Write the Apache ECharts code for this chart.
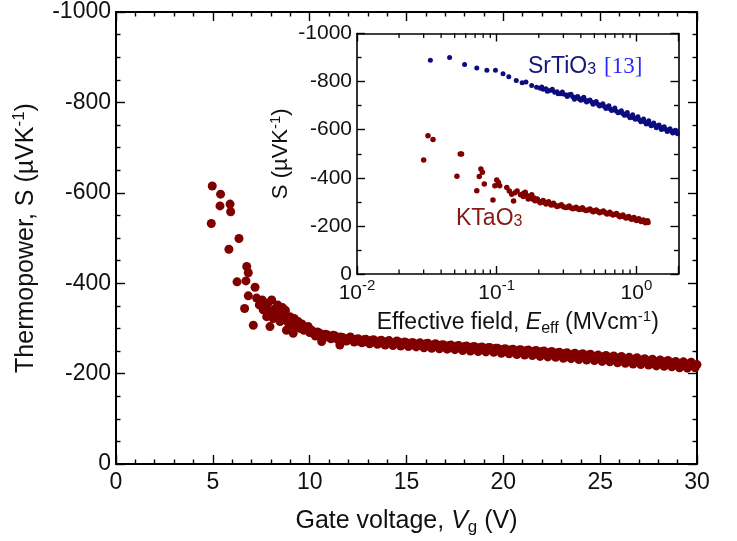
<!DOCTYPE html>
<html>
<head>
<meta charset="utf-8">
<script src="https://cdn.jsdelivr.net/npm/echarts@6/dist/echarts.min.js"></script>
<style>
  html, body { margin: 0; background: #fff; }
  #chart { width: 737px; height: 541px; }
</style>
</head>
<body>
<div id="chart"></div>
<script>
// main panel: thermopower vs gate voltage (KTaO3)
const gateV = [
  4.92, 4.97, 5.37, 5.40, 5.83, 5.89, 5.92, 6.25, 6.35, 6.64, 6.71, 6.75, 6.83, 6.83,
  7.09, 7.18, 7.26, 7.40, 7.55, 7.60, 7.70, 7.78, 7.85, 7.90, 7.95, 8.04, 8.12, 8.20, 8.30,
  8.35, 8.47, 8.55, 8.60, 8.65, 8.75, 8.80, 8.90, 8.98, 9.05, 9.15, 9.20, 9.30, 9.41, 9.50,
  9.60, 9.70, 9.85, 9.93,
  10.0, 10.2, 10.4, 10.6, 10.62, 10.8, 11.0, 11.2, 11.22, 11.4, 11.56, 11.6, 11.8,
  12.0, 12.2, 12.4, 12.6, 12.8, 13.0, 13.2, 13.4, 13.6, 13.8, 14.0, 14.2, 14.4, 14.6, 14.8,
  15.0, 15.2, 15.4, 15.6, 15.8, 16.0, 16.2, 16.4, 16.6, 16.8, 17.0, 17.2, 17.4, 17.6, 17.8,
  18.0, 18.2, 18.4, 18.6, 18.8, 19.0, 19.2, 19.4, 19.6, 19.8, 20.0, 20.2, 20.4, 20.6, 20.8,
  21.0, 21.2, 21.4, 21.6, 21.8, 22.0, 22.2, 22.4, 22.6, 22.8, 23.0, 23.2, 23.4, 23.6, 23.8,
  24.0, 24.2, 24.4, 24.6, 24.8, 25.0, 25.2, 25.4, 25.6, 25.8, 26.0, 26.2, 26.4, 26.6, 26.8,
  27.0, 27.2, 27.4, 27.6, 27.8, 28.0, 28.2, 28.4, 28.6, 28.8, 29.0, 29.2, 29.4, 29.6, 29.8, 30.0
];
const thermoS = [
  -532, -615, -571, -597, -475, -575, -558, -403, -499, -344, -405, -437, -423, -372,
  -307, -391, -367, -352, -363, -341, -346, -326, -356, -338, -304, -363, -322, -343, -331,
  -352, -315, -333, -346, -320, -340, -296, -312, -326, -308, -289, -322, -305, -315, -300,
  -310, -296, -298, -304,
  -291, -288, -292, -284, -271, -287, -280, -283, -285, -277, -263, -281, -275,
  -278, -274, -276, -271, -275, -270, -274, -269, -272, -267, -271, -268, -266, -270, -265,
  -268, -263, -267, -264, -262, -266, -261, -264, -259, -263, -258, -262, -257, -261, -256,
  -260, -255, -259, -254, -258, -253, -257, -252, -256, -251, -254, -249, -253, -248, -252,
  -247, -251, -246, -250, -244, -249, -243, -247, -242, -246, -240, -245, -239, -243, -238,
  -242, -236, -241, -235, -239, -233, -238, -232, -236, -230, -235, -229, -233, -227, -232,
  -226, -230, -225, -229, -223, -227, -222, -226, -220, -224, -219, -223, -218, -222, -217, -220
];
// second sweep, interleaved with the first
const gateV2 = [
  10.1, 10.3, 10.5, 10.7, 10.9, 11.1, 11.3, 11.5, 11.7, 11.9,
  12.1, 12.3, 12.5, 12.7, 12.9, 13.1, 13.3, 13.5, 13.7, 13.9,
  14.1, 14.3, 14.5, 14.7, 14.9, 15.1, 15.3, 15.5, 15.7, 15.9,
  16.1, 16.3, 16.5, 16.7, 16.9, 17.1, 17.3, 17.5, 17.7, 17.9,
  18.1, 18.3, 18.5, 18.7, 18.9, 19.1, 19.3, 19.5, 19.7, 19.9,
  20.1, 20.3, 20.5, 20.7, 20.9, 21.1, 21.3, 21.5, 21.7, 21.9,
  22.1, 22.3, 22.5, 22.7, 22.9, 23.1, 23.3, 23.5, 23.7, 23.9,
  24.1, 24.3, 24.5, 24.7, 24.9, 25.1, 25.3, 25.5, 25.7, 25.9,
  26.1, 26.3, 26.5, 26.7, 26.9, 27.1, 27.3, 27.5, 27.7, 27.9,
  28.1, 28.3, 28.5, 28.7, 28.9, 29.1, 29.3, 29.5, 29.7, 29.9
];
const thermoS2 = [
  -296, -283, -290, -279, -286, -277, -284, -274, -280, -272,
  -281, -270, -277, -268, -276, -266, -275, -265, -274, -263,
  -273, -262, -272, -261, -270, -260, -269, -259, -268, -257,
  -267, -256, -266, -255, -264, -254, -263, -253, -262, -251,
  -261, -250, -260, -249, -259, -248, -258, -247, -256, -245,
  -255, -244, -254, -242, -253, -241, -252, -240, -251, -238,
  -250, -237, -249, -236, -247, -234, -246, -233, -245, -231,
  -244, -230, -243, -229, -241, -227, -240, -226, -239, -224,
  -238, -223, -236, -221, -235, -220, -233, -219, -232, -217,
  -230, -216, -229, -215, -227, -213, -226, -212, -225, -213
];

// inset: S vs effective field, KTaO3
const ktoField = [
  0.030, 0.0322, 0.035, 0.0519, 0.0548, 0.056, 0.072, 0.075, 0.077, 0.079, 0.0815,
  0.094, 0.097, 0.100, 0.103, 0.105, 0.118, 0.123, 0.128, 0.132, 0.135, 0.140, 0.148,
  0.155, 0.160, 0.165, 0.17, 0.175, 0.18, 0.185, 0.19, 0.20, 0.21, 0.22, 0.23, 0.24,
  0.25, 0.26, 0.28, 0.30, 0.32, 0.34, 0.36, 0.38, 0.40, 0.42, 0.45, 0.48, 0.50, 0.53,
  0.56, 0.60, 0.63, 0.66, 0.70, 0.74, 0.78, 0.82, 0.86, 0.90, 0.94, 0.98, 1.02, 1.06,
  1.10, 1.14, 1.18, 1.21
];
const ktoS = [
  -474, -575, -559, -406, -499, -499, -346, -405, -437, -423, -374,
  -308, -367, -391, -380, -367, -360, -345, -332, -304, -338, -345, -330,
  -322, -340, -325, -318, -322, -312, -316, -307, -303, -300, -297, -294, -292,
  -289, -287, -284, -280, -278, -275, -273, -271, -270, -268, -266, -263, -262, -260,
  -258, -255, -252, -250, -248, -244, -241, -238, -235, -233, -230, -228, -226, -223,
  -221, -218, -216, -214
];
const ktoField2 = [
  0.155, 0.168, 0.178, 0.188, 0.195, 0.205, 0.215, 0.225, 0.235, 0.245, 0.255,
  0.27, 0.29, 0.31, 0.33, 0.35, 0.37, 0.39, 0.41, 0.435, 0.465, 0.49, 0.515, 0.545,
  0.58, 0.615, 0.645, 0.68, 0.72, 0.76, 0.80, 0.84, 0.88, 0.92, 0.96, 1.00, 1.04,
  1.08, 1.12, 1.16, 1.20
];
const ktoS2 = [
  -335, -312, -330, -305, -312, -296, -306, -291, -300, -287, -294,
  -281, -288, -276, -283, -271, -278, -268, -275, -264, -270, -259, -266, -255,
  -262, -250, -257, -245, -252, -238, -245, -233, -239, -228, -235, -222, -230,
  -218, -225, -213, -221
];

// inset: SrTiO3 [13]
const stoField = [
  0.0335, 0.046, 0.0589, 0.072, 0.085, 0.098, 0.111, 0.122, 0.138, 0.152, 0.162,
  0.178, 0.193, 0.205, 0.215, 0.225, 0.235, 0.245, 0.26, 0.27, 0.285, 0.30, 0.315,
  0.33, 0.35, 0.37, 0.39, 0.41, 0.43, 0.45, 0.48, 0.50, 0.53, 0.56, 0.59, 0.62, 0.65,
  0.68, 0.72, 0.76, 0.80, 0.84, 0.88, 0.92, 0.96, 1.00, 1.05, 1.10, 1.15, 1.20, 1.25,
  1.30, 1.36, 1.42, 1.48, 1.55, 1.62, 1.70, 1.78, 1.86, 1.94
];
const stoS = [
  -889, -900, -871, -857, -847, -847, -833, -820, -805, -795, -798,
  -784, -777, -772, -768, -770, -762, -764, -756, -758, -750, -748, -744,
  -745, -737, -735, -728, -730, -722, -720, -714, -712, -706, -703, -696, -694, -686,
  -683, -677, -673, -667, -664, -657, -655, -650, -648, -641, -638, -632, -630, -624,
  -621, -617, -612, -610, -604, -602, -597, -594, -591, -589
];
const stoField2 = [
  0.21, 0.23, 0.25, 0.275, 0.295, 0.32, 0.34, 0.36, 0.38, 0.40, 0.42, 0.44, 0.465,
  0.49, 0.515, 0.545, 0.575, 0.605, 0.635, 0.665, 0.70, 0.74, 0.78, 0.82, 0.86, 0.90,
  0.94, 0.98, 1.025, 1.075, 1.125, 1.175, 1.225, 1.275, 1.33, 1.39, 1.45, 1.51, 1.58,
  1.66, 1.74, 1.82, 1.90, 1.97
];
const stoS2 = [
  -778, -760, -768, -750, -757, -738, -747, -727, -738, -722, -735, -715, -724,
  -706, -717, -699, -708, -688, -700, -680, -690, -670, -679, -660, -671, -650,
  -662, -643, -654, -633, -645, -624, -637, -616, -628, -608, -620, -601, -612,
  -593, -604, -586, -598, -583
];

// minor ticks of the log axis in the inset
const logMinorTicks = [0.02, 0.03, 0.04, 0.05, 0.06, 0.07, 0.08, 0.09,
  0.2, 0.3, 0.4, 0.5, 0.6, 0.7, 0.8, 0.9];

const FONT = 'Liberation Sans, Arial, sans-serif';
const RED = '#800000';
const NAVY = '#0c0c7e';

const chart = echarts.init(document.getElementById('chart'));

function frame(extra, lineW, tickLen, minorLen, minorSplit) {
  const ax = {
    splitLine: { show: false },
    axisLine: { show: true, onZero: false, lineStyle: { color: '#000', width: lineW } },
    axisTick: { show: true, inside: true, length: tickLen, lineStyle: { color: '#000', width: 1.4 } },
    minorTick: { show: !!minorSplit, splitNumber: minorSplit || 5, length: minorLen, lineStyle: { color: '#000', width: 1.4 } },
  };
  return Object.assign(ax, extra);
}

const pairs = (xs, ys) => xs.map((v, i) => [v, ys[i]]);
const plainNum = (v) => String(v);
const mainLabel = { fontSize: 23, color: '#111', fontFamily: FONT };
const insetLabel = { fontSize: 21, color: '#111', fontFamily: FONT };

const option = {
  animation: false,
  backgroundColor: '#fff',
  grid: [
    { left: 116, top: 12, width: 581, height: 452 },
    { left: 357, top: 33.5, width: 321.5, height: 240.5 },
  ],
  xAxis: [
    frame({
      gridIndex: 0, type: 'value', min: 0, max: 30, interval: 5, position: 'bottom',
      axisLabel: Object.assign({ margin: 7, formatter: plainNum }, mainLabel),
      name: 'Gate voltage, {i|V}{sub|g} (V)',
      nameLocation: 'middle', nameGap: 42,
      nameTextStyle: {
        fontSize: 25, color: '#111', fontFamily: FONT, lineHeight: 30,
        rich: {
          i: { fontSize: 25, fontStyle: 'italic', fontFamily: FONT, color: '#111', lineHeight: 30 },
          sub: { fontSize: 17, fontFamily: FONT, color: '#111', lineHeight: 15, verticalAlign: 'bottom' },
        },
      },
    }, 2, 9, 4.5, 5),
    frame({
      gridIndex: 0, type: 'value', min: 0, max: 30, interval: 5, position: 'top',
      axisLabel: { show: false },
    }, 2, 9, 4.5, 5),
    frame({
      gridIndex: 1, type: 'log', logBase: 10, min: 0.01, max: 2, position: 'bottom',
      axisLabel: {
        margin: 4,
        formatter: function (v) {
          const e = Math.round(Math.log10(v));
          if (Math.abs(v - Math.pow(10, e)) / v > 1e-6) return '';
          return '{b|10}{sup|' + e + '}';
        },
        rich: {
          b: { fontSize: 21, fontFamily: FONT, color: '#111', lineHeight: 26, verticalAlign: 'bottom' },
          sup: { fontSize: 15, fontFamily: FONT, color: '#111', lineHeight: 14, verticalAlign: 'top' },
        },
      },
      name: 'Effective field, {i|E}{sub|eff} (MVcm{sup|-1})',
      nameLocation: 'middle', nameGap: 35,
      nameTextStyle: {
        fontSize: 23, color: '#111', fontFamily: FONT, lineHeight: 28,
        rich: {
          i: { fontSize: 23, fontStyle: 'italic', fontFamily: FONT, color: '#111', lineHeight: 28 },
          sub: { fontSize: 16, fontFamily: FONT, color: '#111', lineHeight: 14, verticalAlign: 'bottom' },
          sup: { fontSize: 15, fontFamily: FONT, color: '#111', lineHeight: 14, verticalAlign: 'top' },
        },
      },
    }, 1.6, 8, 0, 0),
    frame({
      gridIndex: 1, type: 'log', logBase: 10, min: 0.01, max: 2, position: 'top',
      axisLabel: { show: false },
    }, 1.6, 8, 0, 0),
  ],
  yAxis: [
    frame({
      gridIndex: 0, type: 'value', min: -1000, max: 0, interval: 200, inverse: true, position: 'left',
      axisLabel: Object.assign({ margin: 5, formatter: plainNum }, mainLabel),
      name: 'Thermopower, S (µVK{sup|-1})',
      nameLocation: 'middle', nameGap: 72,
      nameTextStyle: {
        fontSize: 25, color: '#111', fontFamily: FONT, lineHeight: 30,
        rich: {
          sup: { fontSize: 17, fontFamily: FONT, color: '#111', lineHeight: 16, verticalAlign: 'top' },
        },
      },
    }, 2, 9, 4.5, 4),
    frame({
      gridIndex: 0, type: 'value', min: -1000, max: 0, interval: 200, inverse: true, position: 'right',
      axisLabel: { show: false },
    }, 2, 9, 4.5, 4),
    frame({
      gridIndex: 1, type: 'value', min: -1000, max: 0, interval: 200, inverse: true, position: 'left',
      axisLabel: Object.assign({ margin: 5, formatter: plainNum }, insetLabel),
      name: 'S (µVK{sup|-1})',
      nameLocation: 'middle', nameGap: 57,
      nameTextStyle: {
        fontSize: 22, color: '#111', fontFamily: FONT, lineHeight: 26,
        rich: {
          sup: { fontSize: 15, fontFamily: FONT, color: '#111', lineHeight: 14, verticalAlign: 'top' },
        },
      },
    }, 1.6, 8, 4.5, 2),
    frame({
      gridIndex: 1, type: 'value', min: -1000, max: 0, interval: 200, inverse: true, position: 'right',
      axisLabel: { show: false },
    }, 1.6, 8, 4.5, 2),
  ],
  series: [
    {
      type: 'scatter', xAxisIndex: 0, yAxisIndex: 0,
      symbolSize: 9, itemStyle: { color: RED, opacity: 1 },
      data: pairs(gateV, thermoS).concat(pairs(gateV2, thermoS2)),
    },
    {
      type: 'scatter', xAxisIndex: 2, yAxisIndex: 2,
      symbolSize: 5.5, itemStyle: { color: RED, opacity: 1 },
      data: pairs(ktoField, ktoS).concat(pairs(ktoField2, ktoS2)),
    },
    {
      type: 'scatter', xAxisIndex: 2, yAxisIndex: 2,
      symbolSize: 5, itemStyle: { color: NAVY, opacity: 1 },
      data: pairs(stoField, stoS).concat(pairs(stoField2, stoS2)),
    },
    {
      type: 'custom', xAxisIndex: 2, yAxisIndex: 2, silent: true,
      data: logMinorTicks.map((v) => [v, 0]),
      renderItem: function (params, api) {
        const v = api.value(0);
        const b = api.coord([v, 0]);
        const t = api.coord([v, -1000]);
        const st = { stroke: '#000', lineWidth: 1.3 };
        return {
          type: 'group',
          children: [
            { type: 'line', shape: { x1: b[0], y1: b[1], x2: b[0], y2: b[1] - 4.5 }, style: st },
            { type: 'line', shape: { x1: t[0], y1: t[1], x2: t[0], y2: t[1] + 4.5 }, style: st },
          ],
        };
      },
    },
  ],
  graphic: [
    {
      type: 'text', left: 528, top: 55,
      style: {
        text: '{a|SrTiO}{s|3}{b|[13]}',
        rich: {
          a: { fontSize: 23, fontFamily: FONT, fill: '#15157a', lineHeight: 28, verticalAlign: 'bottom' },
          s: { fontSize: 16, fontFamily: FONT, fill: '#15157a', lineHeight: 14, verticalAlign: 'bottom' },
          b: { fontSize: 23, fontFamily: 'Liberation Serif, serif', fill: '#2a2aff', lineHeight: 28, verticalAlign: 'bottom', padding: [0, 0, 0, 8] },
        },
      },
    },
    {
      type: 'text', left: 456, top: 207,
      style: {
        text: '{a|KTaO}{s|3}',
        rich: {
          a: { fontSize: 23, fontFamily: FONT, fill: '#8a1616', lineHeight: 28, verticalAlign: 'bottom' },
          s: { fontSize: 16, fontFamily: FONT, fill: '#8a1616', lineHeight: 14, verticalAlign: 'bottom' },
        },
      },
    },
  ],
};

chart.setOption(option);

window.addEventListener('resize', () => {
  chart.resize();
});
</script>
</body>
</html>
